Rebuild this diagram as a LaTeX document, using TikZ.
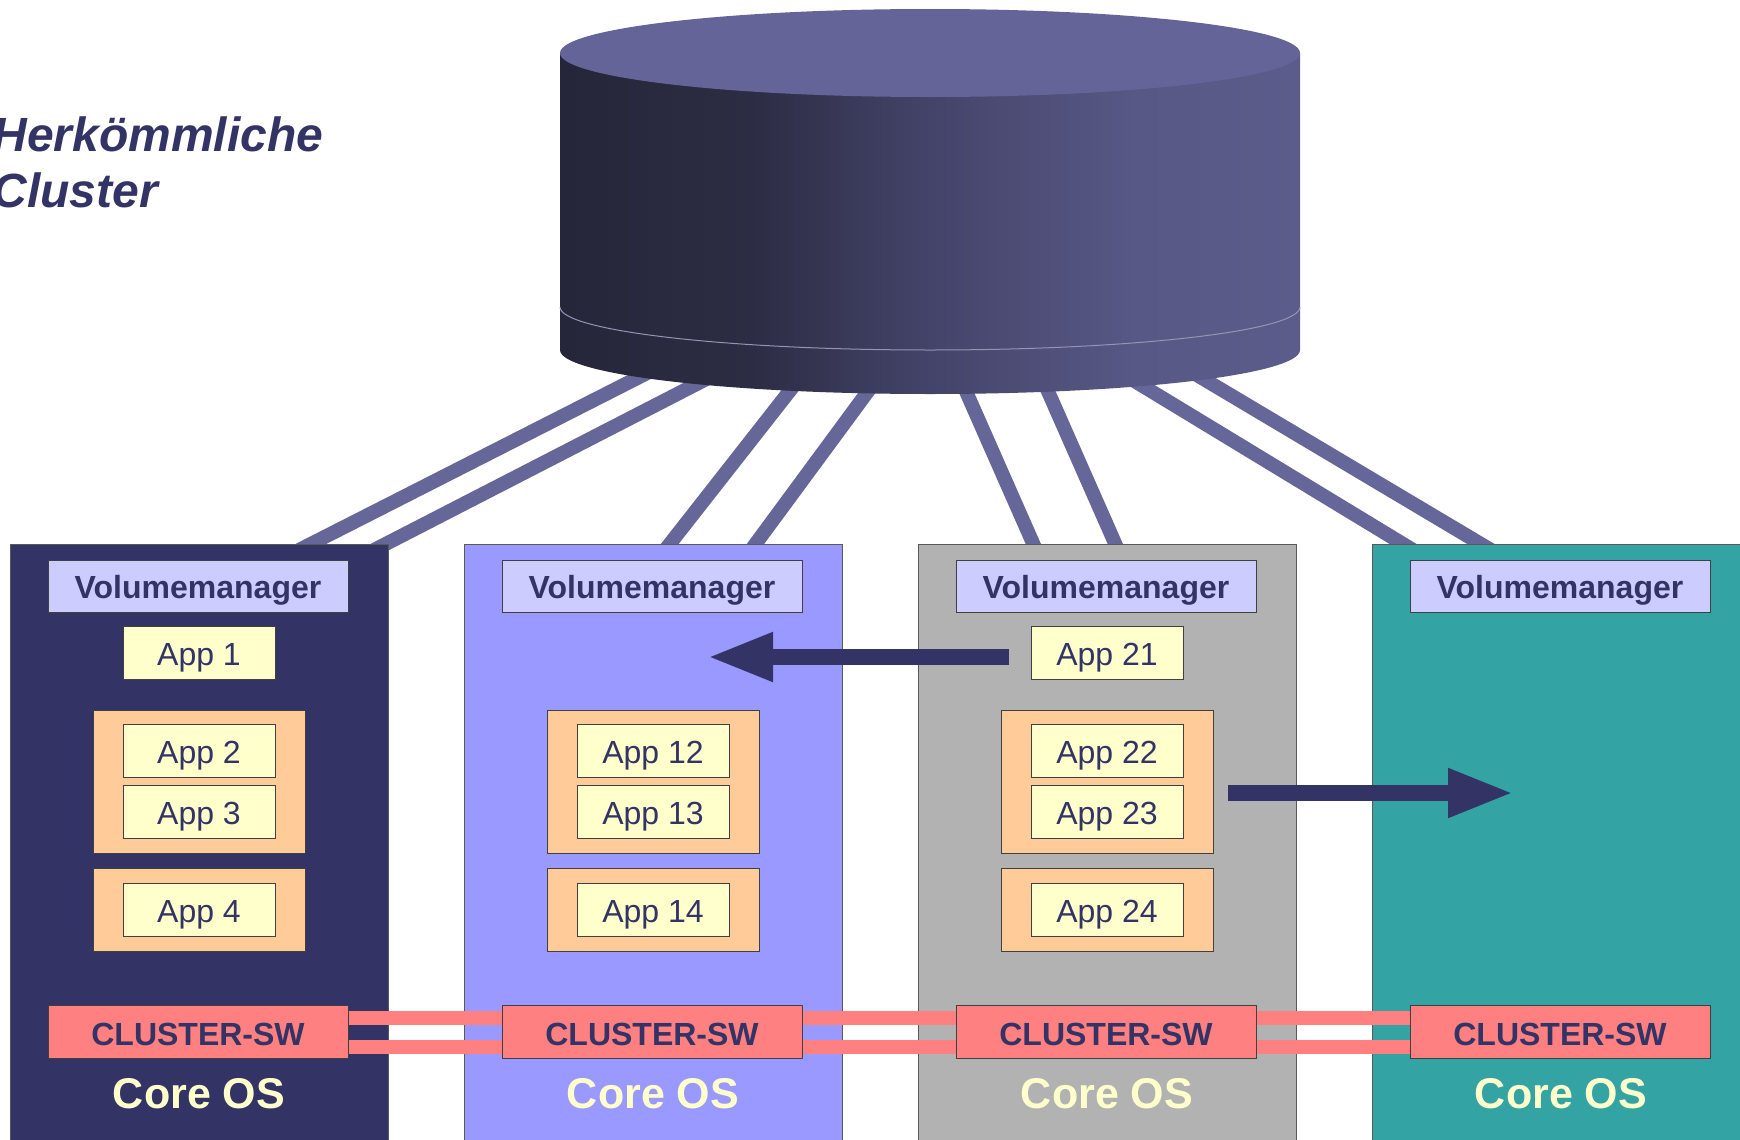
\documentclass[tikz,border=0pt]{standalone}
\usepackage{fontspec}
\setmainfont{Liberation Sans}
\usetikzlibrary{arrows.meta}
\definecolor{navy}{HTML}{333366}
\definecolor{lav}{HTML}{9999FF}
\definecolor{grayb}{HTML}{B2B2B2}
\definecolor{tealb}{HTML}{33A3A3}
\definecolor{vmfill}{HTML}{CCCCFF}
\definecolor{appfill}{HTML}{FFFFCC}
\definecolor{grpfill}{HTML}{FFCC99}
\definecolor{swfill}{HTML}{FF8080}
\definecolor{diskline}{HTML}{666699}
\definecolor{cyltop}{HTML}{646498}
\definecolor{coretext}{HTML}{FFFFCC}
\definecolor{seamc}{HTML}{9494B4}
\definecolor{cylA}{HTML}{26263A}
\definecolor{cylB}{HTML}{2C2C44}
\definecolor{cylC}{HTML}{44446A}
\definecolor{cylD}{HTML}{585886}
\definecolor{cylE}{HTML}{5C5C8C}
\pgfdeclarehorizontalshading{cylshade}{100bp}{color(0bp)=(cylA); color(25bp)=(cylA); color(38bp)=(cylB); color(50bp)=(cylC); color(64bp)=(cylD); color(75bp)=(cylE); color(100bp)=(cylE)}
\begin{document}
\begin{tikzpicture}[x=0.5pt, y=-0.5pt,
  bigbox/.style={draw=black!65, line width=0.5pt, minimum width=189pt, minimum height=303pt, inner sep=0pt},
  vmbox/.style={draw=black!75, line width=0.5pt, fill=vmfill, minimum width=150pt, minimum height=26pt, inner sep=0pt, text height=14pt, text depth=1.9pt, text=navy, font=\fontsize{16}{19}\selectfont\bfseries},
  appbox/.style={draw=black!75, line width=0.5pt, fill=appfill, minimum width=76pt, minimum height=26.5pt, inner sep=0pt, text height=14pt, text depth=1.9pt, text=navy, font=\fontsize{16}{19}\selectfont},
  grpbox/.style={draw=black!75, line width=0.5pt, fill=grpfill, minimum width=106pt, inner sep=0pt},
  swbox/.style={draw=black!75, line width=0.5pt, fill=swfill, minimum width=150pt, minimum height=26.5pt, inner sep=0pt, text height=14pt, text depth=0.3pt, text=navy, font=\fontsize{16}{19}\selectfont\bfseries},
  coreos/.style={text=coretext, font=\fontsize{21.5}{25}\selectfont\bfseries, inner sep=0pt},
  diskln/.style={draw=diskline, line width=7pt},
  swline/.style={draw=swfill, line width=7pt},
  bigarr/.style={draw=navy, line width=8pt, -{Triangle[length=33pt,width=22.5pt]}},
  titletext/.style={text=navy, font=\fontsize{24}{28}\selectfont\bfseries\itshape, inner sep=0pt}
]
\useasboundingbox (0,0) rectangle (1740,1140);

% connections from the disk to the nodes
\coordinate (gT) at (718,337);  \coordinate (gB) at (299,550);
\coordinate (hT) at (788,337);  \coordinate (hB) at (374,550);
\coordinate (eT) at (832,337);  \coordinate (eB) at (665,550);
\coordinate (fT) at (908,337);  \coordinate (fB) at (751,550);
\coordinate (cT) at (942,337);  \coordinate (cB) at (1036,550);
\coordinate (dT) at (1024,337); \coordinate (dB) at (1118,550);
\coordinate (aT) at (1062,337); \coordinate (aB) at (1413,550);
\coordinate (bT) at (1133,337); \coordinate (bB) at (1491,550);
\foreach \p in {g,h,e,f,c,d,a,b} { \draw[diskln] (\p T) -- (\p B); }

% disk (cylinder)
\shade[shading=cylshade] (560,53) -- (560,350) arc[start angle=180, end angle=0, x radius=370, y radius=44] -- (1300,53) -- cycle;
\fill[cyltop] (930,53) ellipse [x radius=370, y radius=44];
\draw[seamc, line width=0.5pt] (560,307) arc[start angle=180, end angle=0, x radius=370, y radius=43];

% cluster nodes
\node[bigbox, fill=navy]  (n1) at (199,847) {};
\node[bigbox, fill=lav]   (n2) at (653,847) {};
\node[bigbox, fill=grayb] (n3) at (1107,847) {};
\node[bigbox, fill=tealb] (n4) at (1561,847) {};

\foreach \i/\L in {1/10, 2/464, 3/918, 4/1372} {
  \node[vmbox] (vm\i) at (\L+188,586) {Volumemanager};
  \node[swbox] (sw\i) at (\L+188,1031.5) {CLUSTER-SW};
  \node[coreos] (os\i) at (\L+189,1094) {Core OS};
}

% groups
\node[grpbox, minimum height=71.5pt]  (g1a) at (199,781.5) {};
\node[grpbox, minimum height=41.75pt] (g1b) at (199,910) {};
\node[grpbox, minimum height=71.5pt]  (g2a) at (653,781.5) {};
\node[grpbox, minimum height=41.75pt] (g2b) at (653,910) {};
\node[grpbox, minimum height=71.5pt]  (g3a) at (1107,781.5) {};
\node[grpbox, minimum height=41.75pt] (g3b) at (1107,910) {};

% applications
\node[appbox] (app1)  at (199,653) {App 1};
\node[appbox] (app2)  at (199,751) {App 2};
\node[appbox] (app3)  at (199,812) {App 3};
\node[appbox] (app4)  at (199,910) {App 4};
\node[appbox] (app12) at (653,751) {App 12};
\node[appbox] (app13) at (653,812) {App 13};
\node[appbox] (app14) at (653,910) {App 14};
\node[appbox] (app21) at (1107,653) {App 21};
\node[appbox] (app22) at (1107,751) {App 22};
\node[appbox] (app23) at (1107,812) {App 23};
\node[appbox] (app24) at (1107,910) {App 24};

% cluster interconnect
\foreach \i/\j in {1/2, 2/3, 3/4} {
  \draw[swline] ([yshift=6.75pt]sw\i.east) -- ([yshift=6.75pt]sw\j.west);
  \draw[swline] ([yshift=-7.75pt]sw\i.east) -- ([yshift=-7.75pt]sw\j.west);
}

% failover arrows
\coordinate (la0) at (1009,657); \coordinate (la1) at (707,657);
\coordinate (ra0) at (1228,793); \coordinate (ra1) at (1514,793);
\draw[bigarr] (la0) -- (la1);
\draw[bigarr] (ra0) -- (ra1);

% title
\node[titletext, anchor=base west] (t1) at (-8,151) {Herkömmliche};
\node[titletext, anchor=base west] (t2) at (-8,207) {Cluster};
\end{tikzpicture}
\end{document}
